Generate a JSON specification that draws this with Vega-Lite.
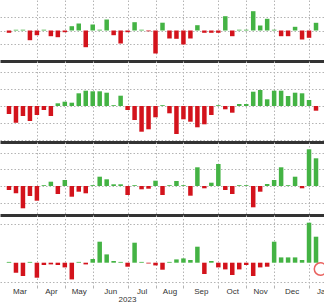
{
  "$schema": "https://vega.github.io/schema/vega-lite/v6.json",
  "padding": 0,
  "spacing": 0,
  "bounds": "flush",
  "background": "white",
  "config": {
    "view": {"stroke": null},
    "font": "Liberation Sans",
    "axis": {"gridColor": "#b4b4b4", "gridDash": [1.5, 2], "gridWidth": 1}
  },
  "datasets": {
    "flows": [
      {"d":"2023-03-03","p":1,"v":-2.3},{"d":"2023-03-10","p":1,"v":0.8},{"d":"2023-03-17","p":1,"v":0.8},{"d":"2023-03-24","p":1,"v":-9.7},{"d":"2023-03-31","p":1,"v":-4.7},
      {"d":"2023-04-07","p":1,"v":0.8},{"d":"2023-04-14","p":1,"v":-5.7},{"d":"2023-04-21","p":1,"v":-6.7},{"d":"2023-04-28","p":1,"v":-1.7},{"d":"2023-05-05","p":1,"v":4.3},
      {"d":"2023-05-12","p":1,"v":7},{"d":"2023-05-19","p":1,"v":-16.7},{"d":"2023-05-26","p":1,"v":6},{"d":"2023-06-02","p":1,"v":0.8},{"d":"2023-06-09","p":1,"v":11},
      {"d":"2023-06-16","p":1,"v":-4.7},{"d":"2023-06-23","p":1,"v":-13},{"d":"2023-06-30","p":1,"v":-1.7},{"d":"2023-07-07","p":1,"v":8.3},{"d":"2023-07-14","p":1,"v":0.8},
      {"d":"2023-07-21","p":1,"v":-0.8},{"d":"2023-07-28","p":1,"v":-23},{"d":"2023-08-04","p":1,"v":7.8},{"d":"2023-08-11","p":1,"v":-8},{"d":"2023-08-18","p":1,"v":-8.3},
      {"d":"2023-08-25","p":1,"v":-14},{"d":"2023-09-01","p":1,"v":-8},{"d":"2023-09-08","p":1,"v":5.3},{"d":"2023-09-15","p":1,"v":-2.3},{"d":"2023-09-22","p":1,"v":-2.3},
      {"d":"2023-09-29","p":1,"v":-2.3},{"d":"2023-10-06","p":1,"v":14.3},{"d":"2023-10-13","p":1,"v":-5.7},{"d":"2023-10-20","p":1,"v":0.8},{"d":"2023-10-27","p":1,"v":0.8},
      {"d":"2023-11-03","p":1,"v":19.3},{"d":"2023-11-10","p":1,"v":5},{"d":"2023-11-17","p":1,"v":11.7},{"d":"2023-11-24","p":1,"v":0.8},{"d":"2023-12-01","p":1,"v":-5.7},
      {"d":"2023-12-08","p":1,"v":-5.7},{"d":"2023-12-15","p":1,"v":3.7},{"d":"2023-12-22","p":1,"v":-9},{"d":"2023-12-29","p":1,"v":-7.3},{"d":"2024-01-05","p":1,"v":7.7},

      {"d":"2023-03-03","p":2,"v":-8},{"d":"2023-03-10","p":2,"v":-16.7},{"d":"2023-03-17","p":2,"v":-10},{"d":"2023-03-24","p":2,"v":-15},{"d":"2023-03-31","p":2,"v":-9},
      {"d":"2023-04-07","p":2,"v":-4},{"d":"2023-04-14","p":2,"v":-10},{"d":"2023-04-21","p":2,"v":2.7},{"d":"2023-04-28","p":2,"v":4.3},{"d":"2023-05-05","p":2,"v":3.3},
      {"d":"2023-05-12","p":2,"v":12.7},{"d":"2023-05-19","p":2,"v":15.3},{"d":"2023-05-26","p":2,"v":14.7},{"d":"2023-06-02","p":2,"v":14.7},{"d":"2023-06-09","p":2,"v":13.3},
      {"d":"2023-06-16","p":2,"v":0.8},{"d":"2023-06-23","p":2,"v":10.3},{"d":"2023-06-30","p":2,"v":-4},{"d":"2023-07-07","p":2,"v":-14},{"d":"2023-07-14","p":2,"v":-25.7},
      {"d":"2023-07-21","p":2,"v":-23.3},{"d":"2023-07-28","p":2,"v":-11.3},{"d":"2023-08-04","p":2,"v":0.8},{"d":"2023-08-11","p":2,"v":-7.3},{"d":"2023-08-18","p":2,"v":-28},
      {"d":"2023-08-25","p":2,"v":-13.3},{"d":"2023-09-01","p":2,"v":-15.7},{"d":"2023-09-08","p":2,"v":-21.3},{"d":"2023-09-15","p":2,"v":-18.3},{"d":"2023-09-22","p":2,"v":-9},
      {"d":"2023-09-29","p":2,"v":0.8},{"d":"2023-10-06","p":2,"v":-3.3},{"d":"2023-10-13","p":2,"v":-6.7},{"d":"2023-10-20","p":2,"v":2},{"d":"2023-10-27","p":2,"v":2},
      {"d":"2023-11-03","p":2,"v":14.3},{"d":"2023-11-10","p":2,"v":16},{"d":"2023-11-17","p":2,"v":6.7},{"d":"2023-11-24","p":2,"v":15.3},{"d":"2023-12-01","p":2,"v":15.3},
      {"d":"2023-12-08","p":2,"v":10},{"d":"2023-12-15","p":2,"v":13.3},{"d":"2023-12-22","p":2,"v":12.7},{"d":"2023-12-29","p":2,"v":6},{"d":"2024-01-05","p":2,"v":-4.7},

      {"d":"2023-03-03","p":3,"v":-4},{"d":"2023-03-10","p":3,"v":-7.3},{"d":"2023-03-17","p":3,"v":-22.3},{"d":"2023-03-24","p":3,"v":-10},{"d":"2023-03-31","p":3,"v":-14.7},
      {"d":"2023-04-07","p":3,"v":0.8},{"d":"2023-04-14","p":3,"v":4.3},{"d":"2023-04-21","p":3,"v":-8},{"d":"2023-04-28","p":3,"v":6},{"d":"2023-05-05","p":3,"v":-10.7},
      {"d":"2023-05-12","p":3,"v":-5.7},{"d":"2023-05-19","p":3,"v":-7.3},{"d":"2023-05-26","p":3,"v":0.8},{"d":"2023-06-02","p":3,"v":9.3},{"d":"2023-06-09","p":3,"v":6.7},
      {"d":"2023-06-16","p":3,"v":1.7},{"d":"2023-06-23","p":3,"v":1.7},{"d":"2023-06-30","p":3,"v":-9},{"d":"2023-07-07","p":3,"v":0.8},{"d":"2023-07-14","p":3,"v":-3.3},
      {"d":"2023-07-21","p":3,"v":-2.7},{"d":"2023-07-28","p":3,"v":5.3},{"d":"2023-08-04","p":3,"v":-9},{"d":"2023-08-11","p":3,"v":0.8},{"d":"2023-08-18","p":3,"v":5},
      {"d":"2023-08-25","p":3,"v":0.8},{"d":"2023-09-01","p":3,"v":-9.7},{"d":"2023-09-08","p":3,"v":18.7},{"d":"2023-09-15","p":3,"v":-2.3},{"d":"2023-09-22","p":3,"v":3.3},
      {"d":"2023-09-29","p":3,"v":22},{"d":"2023-10-06","p":3,"v":-4},{"d":"2023-10-13","p":3,"v":-8},{"d":"2023-10-20","p":3,"v":0.8},{"d":"2023-10-27","p":3,"v":0.8},
      {"d":"2023-11-03","p":3,"v":-21.3},{"d":"2023-11-10","p":3,"v":-5.7},{"d":"2023-11-17","p":3,"v":2},{"d":"2023-11-24","p":3,"v":6},{"d":"2023-12-01","p":3,"v":18.7},
      {"d":"2023-12-08","p":3,"v":0.8},{"d":"2023-12-15","p":3,"v":9.3},{"d":"2023-12-22","p":3,"v":-2.3},{"d":"2023-12-29","p":3,"v":36.7},{"d":"2024-01-05","p":3,"v":27.7},

      {"d":"2023-03-03","p":4,"v":0.8},{"d":"2023-03-10","p":4,"v":-10},{"d":"2023-03-17","p":4,"v":-13.3},{"d":"2023-03-24","p":4,"v":0.8},{"d":"2023-03-31","p":4,"v":-15},
      {"d":"2023-04-07","p":4,"v":-2.3},{"d":"2023-04-14","p":4,"v":-1.7},{"d":"2023-04-21","p":4,"v":-2.3},{"d":"2023-04-28","p":4,"v":-4.7},{"d":"2023-05-05","p":4,"v":-16.7},
      {"d":"2023-05-12","p":4,"v":0.8},{"d":"2023-05-19","p":4,"v":-1.7},{"d":"2023-05-26","p":4,"v":3.7},{"d":"2023-06-02","p":4,"v":21},{"d":"2023-06-09","p":4,"v":8.3},
      {"d":"2023-06-16","p":4,"v":1.7},{"d":"2023-06-23","p":4,"v":0.8},{"d":"2023-06-30","p":4,"v":-4},{"d":"2023-07-07","p":4,"v":20},{"d":"2023-07-14","p":4,"v":0.8},
      {"d":"2023-07-21","p":4,"v":-0.8},{"d":"2023-07-28","p":4,"v":-2.7},{"d":"2023-08-04","p":4,"v":-7},{"d":"2023-08-11","p":4,"v":0.8},{"d":"2023-08-18","p":4,"v":3.3},
      {"d":"2023-08-25","p":4,"v":4.3},{"d":"2023-09-01","p":4,"v":2.7},{"d":"2023-09-08","p":4,"v":16},{"d":"2023-09-15","p":4,"v":-11.3},{"d":"2023-09-22","p":4,"v":1.7},
      {"d":"2023-09-29","p":4,"v":-4.7},{"d":"2023-10-06","p":4,"v":-6.7},{"d":"2023-10-13","p":4,"v":-12.3},{"d":"2023-10-20","p":4,"v":-6.7},{"d":"2023-10-27","p":4,"v":-2.3},
      {"d":"2023-11-03","p":4,"v":-13.3},{"d":"2023-11-10","p":4,"v":-4.7},{"d":"2023-11-17","p":4,"v":-4},{"d":"2023-11-24","p":4,"v":21},{"d":"2023-12-01","p":4,"v":5.3},
      {"d":"2023-12-08","p":4,"v":5.3},{"d":"2023-12-15","p":4,"v":5.3},{"d":"2023-12-22","p":4,"v":2.7},{"d":"2023-12-29","p":4,"v":40},{"d":"2024-01-05","p":4,"v":26}
    ],
    "note": [{"d":"2024-01-09T12:00:00Z","v":-6.3}]
  },
  "vconcat": [
    {
      "width": 324, "height": 61,
      "data": {"name": "flows"},
      "transform": [{"filter": "datum.p == 1"}],
      "mark": {"type": "bar", "width": 4.5},
      "encoding": {
        "x": {"field": "d", "type": "temporal",
          "scale": {"domain": [1677456000000, 1704672000000], "nice": false},
          "axis": {"values": [1680220800000,1682640000000,1685059200000,1688083200000,1690502400000,1692921600000,1695945600000,1698364800000,1700784000000,1703808000000],
            "grid": true, "labels": false, "ticks": false, "domain": true, "domainColor": "#333333", "domainWidth": 3, "title": null, "maxExtent": 0, "minExtent": 0}},
        "y": {"field": "v", "type": "quantitative",
          "scale": {"domain": [-30.5, 30.5], "nice": false},
          "axis": {"values": [-13.5, 0, 13.5], "grid": true, "labels": false, "ticks": false, "domain": false, "title": null, "maxExtent": 0, "minExtent": 0}},
        "color": {"condition": {"test": "datum.v > 0", "value": "#44b344"}, "value": "#d3131c"}
      }
    },
    {
      "width": 324, "height": 81,
      "data": {"name": "flows"},
      "transform": [{"filter": "datum.p == 2"}],
      "mark": {"type": "bar", "width": 4.5},
      "encoding": {
        "x": {"field": "d", "type": "temporal",
          "scale": {"domain": [1677456000000, 1704672000000], "nice": false},
          "axis": {"values": [1680220800000,1682640000000,1685059200000,1688083200000,1690502400000,1692921600000,1695945600000,1698364800000,1700784000000,1703808000000],
            "grid": true, "labels": false, "ticks": false, "domain": true, "domainColor": "#333333", "domainWidth": 3, "title": null, "maxExtent": 0, "minExtent": 0}},
        "y": {"field": "v", "type": "quantitative",
          "scale": {"domain": [-36, 45], "nice": false},
          "axis": {"values": [-34.4, -17.2, 0, 17.2, 34.4], "grid": true, "labels": false, "ticks": false, "domain": false, "title": null, "maxExtent": 0, "minExtent": 0}},
        "color": {"condition": {"test": "datum.v > 0", "value": "#44b344"}, "value": "#d3131c"}
      }
    },
    {
      "width": 324, "height": 73,
      "data": {"name": "flows"},
      "transform": [{"filter": "datum.p == 3"}],
      "mark": {"type": "bar", "width": 4.5},
      "encoding": {
        "x": {"field": "d", "type": "temporal",
          "scale": {"domain": [1677456000000, 1704672000000], "nice": false},
          "axis": {"values": [1680220800000,1682640000000,1685059200000,1688083200000,1690502400000,1692921600000,1695945600000,1698364800000,1700784000000,1703808000000],
            "grid": true, "labels": false, "ticks": false, "domain": true, "domainColor": "#333333", "domainWidth": 3, "title": null, "maxExtent": 0, "minExtent": 0}},
        "y": {"field": "v", "type": "quantitative",
          "scale": {"domain": [-29, 44], "nice": false},
          "axis": {"values": [-16.7, 0, 16.7, 33.4], "grid": true, "labels": false, "ticks": false, "domain": false, "title": null, "maxExtent": 0, "minExtent": 0}},
        "color": {"condition": {"test": "datum.v > 0", "value": "#44b344"}, "value": "#d3131c"}
      }
    },
    {
      "width": 324, "height": 70,
      "layer": [
        {
          "data": {"name": "flows"},
          "transform": [{"filter": "datum.p == 4"}],
          "mark": {"type": "bar", "width": 4.5},
          "encoding": {
            "x": {"field": "d", "type": "temporal",
              "scale": {"domain": [1677456000000, 1704672000000], "nice": false},
              "axis": {"orient": "bottom", "values": [1680220800000,1682640000000,1685059200000,1688083200000,1690502400000,1692921600000,1695945600000,1698364800000,1700784000000,1703808000000],
                "grid": true, "labels": false, "ticks": true, "tickSize": 3, "tickColor": "#b4b4b4", "domain": false, "title": null}},
            "y": {"field": "v", "type": "quantitative",
              "scale": {"domain": [-22.3, 47.7], "nice": false},
              "axis": {"values": [-19.6, 0, 19.6, 39.2], "grid": true, "labels": false, "ticks": false, "domain": false, "title": null, "maxExtent": 0, "minExtent": 0}},
            "color": {"condition": {"test": "datum.v > 0", "value": "#44b344"}, "value": "#d3131c"}
          }
        },
        {
          "data": {"name": "note"},
          "mark": {"type": "point", "shape": "circle", "filled": false, "stroke": "#e0201c", "strokeWidth": 1.5, "size": 154},
          "encoding": {
            "x": {"field": "d", "type": "temporal",
              "axis": {"orient": "bottom", "values": [1678708800000,1681430400000,1683849600000,1686571200000,1689292800000,1691712000000,1694433600000,1697155200000,1699574400000,1702296000000,1705017600000],
                "format": "%b", "grid": false, "ticks": false, "domain": false, "labelFlush": false, "labelOverlap": false,
                "labelFontSize": 8, "labelColor": "#333333", "labelPadding": 2,
                "title": "2023", "titleX": 127, "titleFontSize": 8, "titleFontWeight": "normal", "titleColor": "#333333", "titlePadding": 0}},
            "y": {"field": "v", "type": "quantitative"}
          }
        }
      ],
      "resolve": {"axis": {"x": "independent"}}
    }
  ]
}
